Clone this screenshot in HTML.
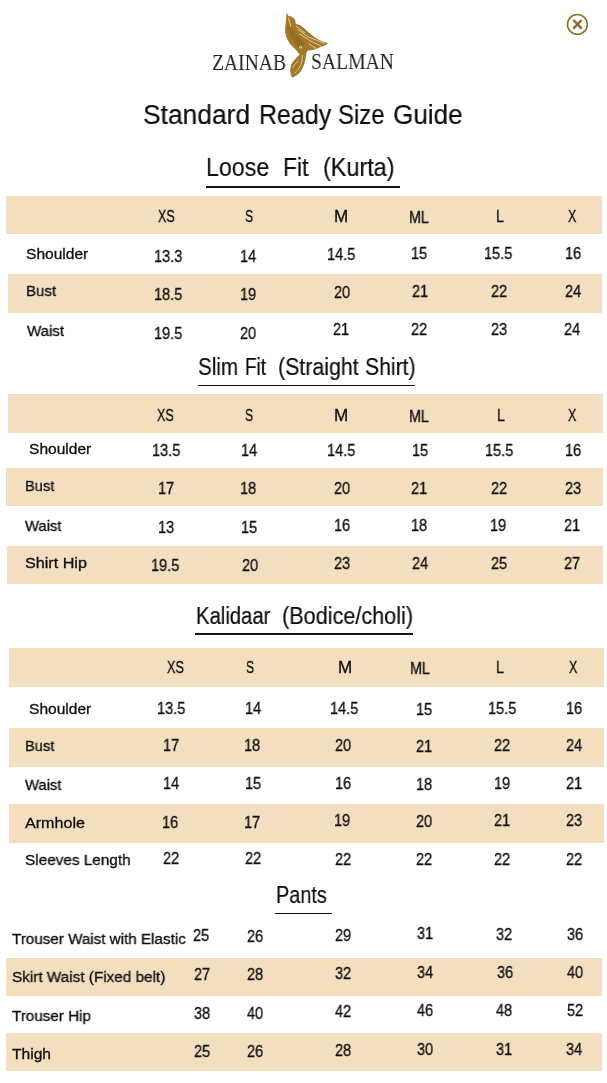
<!DOCTYPE html>
<html><head><meta charset="utf-8"><title>Standard Ready Size Guide</title>
<style>
html,body{margin:0;padding:0;background:#fff;}
body{width:607px;height:1083px;position:relative;overflow:hidden;font-family:"Liberation Sans",sans-serif;color:#0d0d0d;}
.b{position:absolute;background:#f4dec0;}
.u{position:absolute;background:#151515;}
.bl{position:absolute;background:#efe5c8;}
.tx,.ti,.lg{position:absolute;white-space:nowrap;line-height:1;transform-origin:0 0;will-change:transform;}
.tx{-webkit-text-stroke:0.3px #0d0d0d;}
.ti{-webkit-text-stroke:0.2px #0d0d0d;}
.lg{font-family:"Liberation Serif",serif;color:#232323;}
</style></head><body>
<svg style="position:absolute;left:270px;top:5px" width="70" height="80" viewBox="270 5 70 80">
<path fill="#a27829" d="M286.4 12.4 L288.6 16 C290 16 292.5 16.8 294.1 18.6 C295 19.6 295.5 21 295.6 22.4 L295.8 24.1 C297.5 24.4 299 24.8 300.6 25.4 C302.5 26.6 304 28 305.7 29.7 C308 31.8 310.3 33.8 312.6 35.7 C314.8 37.3 317 38.8 319.4 40 C322 41.4 324.8 42.4 327.8 43.1 C327.4 44 326.8 44.5 326.3 44.7 C324.6 45.6 322.8 46.2 321.1 46.8 C319.4 47.6 317.7 48.3 316 49 C314.6 49.6 313.1 50 311.7 50.3 C310.5 50.4 309.4 50.4 308.3 50.3 L306.6 52 C306.3 54 306 56 305.7 58 C305.2 60.3 304.7 62.6 304 64.8 C303 67.3 302 69.6 300.6 71.7 C299 73.5 297.3 75 295.4 76 C294.3 76.7 293.1 77.3 292 77.7 C291.2 75.8 290.5 73.8 290.3 71.7 C290.2 69.4 290.5 67 291.1 64.8 C291.9 63 293.1 61.2 294.6 59.7 C295.7 58.5 296.8 57.4 298 56.3 L299.7 54.5 C298.5 53.1 297.4 51.7 296.3 50.3 C294.2 48.4 292.2 46.4 290.3 44.3 C289 42.4 287.8 40.4 286.9 38.3 C285.9 36.1 285.3 33.8 285.1 31.4 C285 29.1 285.2 26.8 285.6 24.6 C285.7 22.9 285.8 21.1 286 19.4 C286.2 17.8 286.3 16.2 286.4 15.1 Z"/>
<path fill="#8a6320" opacity="0.55" d="M287 27 C289 33 292 40 297 46 C300 48 303 47 305 44 C301 40 295 33 291 27 C289.5 25 287.5 25 287 27 Z"/>
<g stroke="#ecd9ad" stroke-width="0.85" fill="none" stroke-linecap="round">
<path d="M296.3 26.3 L304.7 32.7"/>
<path d="M298.1 29.6 L308.4 37.2"/>
<path d="M299.8 34 L309.7 40.5"/>
<path d="M309.4 37.4 L324.6 43.2"/>
<path d="M309.9 40.7 L321 46"/>
<path d="M308.8 44 L316 48.4"/>
<path d="M288.4 17.8 C289.5 21 290.3 24 290.7 26.5"/>
<path d="M302.4 55.5 C302.2 60 301.7 63 300.6 65.4 C299 68.5 297 71 294.8 73"/>
<path d="M298.1 61 C296 63 294 65 292.6 67.2"/>
<circle cx="300.5" cy="47.2" r="1"/>
</g>
</svg>
<svg style="position:absolute;left:562px;top:9px" width="31" height="31" viewBox="562 9 31 31">
<circle cx="577.4" cy="24.4" r="9.9" fill="none" stroke="#8f6b2a" stroke-width="1.5"/>
<path d="M573.4 20 L581.8 28.6 M581.6 20 L573.2 28.6" stroke="#8f6b2a" stroke-width="2.5" stroke-linecap="butt"/>
</svg>

<div class="b" style="left:6px;top:196px;width:596px;height:38px"></div>
<div class="b" style="left:8px;top:274px;width:594px;height:38.5px"></div>
<div class="b" style="left:7.5px;top:394px;width:595.5px;height:38.5px"></div>
<div class="b" style="left:6px;top:467.5px;width:597px;height:38.5px"></div>
<div class="b" style="left:7px;top:546px;width:596px;height:38px"></div>
<div class="b" style="left:9px;top:647.5px;width:595px;height:39.5px"></div>
<div class="b" style="left:9px;top:727.5px;width:595px;height:39.0px"></div>
<div class="b" style="left:9px;top:804px;width:595px;height:39px"></div>
<div class="b" style="left:6px;top:957.5px;width:596px;height:38.5px"></div>
<div class="b" style="left:6px;top:1032.7px;width:596px;height:38.299999999999955px"></div>
<div class="bl" style="left:9px;top:277px;width:593px;height:1px"></div>
<div class="bl" style="left:8px;top:398px;width:594px;height:1px"></div>
<div class="bl" style="left:8px;top:549px;width:594px;height:1px"></div>
<div class="bl" style="left:10px;top:682px;width:591px;height:1px"></div>
<div class="bl" style="left:10px;top:762px;width:591px;height:1px"></div>
<div class="bl" style="left:7px;top:1066px;width:594px;height:1px"></div>
<div class="bl" style="left:601px;top:394px;width:1px;height:38px"></div>
<div class="bl" style="left:12px;top:648px;width:1px;height:38px"></div>
<div class="bl" style="left:13px;top:728px;width:1px;height:38px"></div>
<div class="bl" style="left:7px;top:468px;width:1px;height:38px"></div>
<div class="u" style="left:206.3px;top:186.4px;width:193.5px;height:1.4px"></div>
<div class="u" style="left:197.6px;top:384.7px;width:217.4px;height:1.4px"></div>
<div class="u" style="left:194.9px;top:633.4px;width:217.79999999999998px;height:1.4px"></div>
<div class="u" style="left:274.9px;top:912.7px;width:57.400000000000034px;height:1.4px"></div>
<span id="t0" class="tx" style="left:157.90px;top:209.00px;font-size:16px;transform:scaleX(0.7781);">XS</span>
<span id="t1" class="tx" style="left:244.54px;top:209.00px;font-size:16px;transform:scaleX(0.7500);">S</span>
<span id="t2" class="tx" style="left:333.80px;top:209.00px;font-size:16px;transform:scaleX(1.0666);">M</span>
<span id="t3" class="tx" style="left:409.37px;top:210.30px;font-size:16px;transform:scaleX(0.8946);">ML</span>
<span id="t4" class="tx" style="left:496.35px;top:209.00px;font-size:16px;transform:scaleX(0.8886);">L</span>
<span id="t5" class="tx" style="left:568.05px;top:209.00px;font-size:16px;transform:scaleX(0.7780);">X</span>
<span id="t6" class="tx" style="left:26.00px;top:245.58px;font-size:15.5px;transform:scaleX(1.0036);">Shoulder</span>
<span id="t7" class="tx" style="left:154.32px;top:249.16px;font-size:15.75px;transform:scaleX(0.9200);">13.3</span>
<span id="t8" class="tx" style="left:240.35px;top:249.16px;font-size:15.75px;transform:scaleX(0.9200);">14</span>
<span id="t9" class="tx" style="left:327.31px;top:247.18px;font-size:15.75px;transform:scaleX(0.9200);">14.5</span>
<span id="t10" class="tx" style="left:410.97px;top:246.18px;font-size:15.75px;transform:scaleX(0.9200);">15</span>
<span id="t11" class="tx" style="left:483.97px;top:246.18px;font-size:15.75px;transform:scaleX(0.9200);">15.5</span>
<span id="t12" class="tx" style="left:564.65px;top:246.18px;font-size:15.75px;transform:scaleX(0.9200);">16</span>
<span id="t13" class="tx" style="left:26.04px;top:283.24px;font-size:15.5px;transform:scaleX(0.9712);">Bust</span>
<span id="t14" class="tx" style="left:154.37px;top:287.16px;font-size:15.75px;transform:scaleX(0.9200);">18.5</span>
<span id="t15" class="tx" style="left:240.05px;top:287.16px;font-size:15.75px;transform:scaleX(0.9200);">19</span>
<span id="t16" class="tx" style="left:334.35px;top:285.18px;font-size:15.75px;transform:scaleX(0.9200);">20</span>
<span id="t17" class="tx" style="left:411.67px;top:284.18px;font-size:15.75px;transform:scaleX(0.9200);">21</span>
<span id="t18" class="tx" style="left:490.87px;top:284.18px;font-size:15.75px;transform:scaleX(0.9200);">22</span>
<span id="t19" class="tx" style="left:564.70px;top:284.18px;font-size:15.75px;transform:scaleX(0.9200);">24</span>
<span id="t20" class="tx" style="left:26.70px;top:322.64px;font-size:15.5px;transform:scaleX(0.9732);">Waist</span>
<span id="t21" class="tx" style="left:153.97px;top:325.52px;font-size:15.75px;transform:scaleX(0.9200);">19.5</span>
<span id="t22" class="tx" style="left:240.35px;top:325.52px;font-size:15.75px;transform:scaleX(0.9200);">20</span>
<span id="t23" class="tx" style="left:333.35px;top:322.16px;font-size:15.75px;transform:scaleX(0.9200);">21</span>
<span id="t24" class="tx" style="left:411.35px;top:321.50px;font-size:15.75px;transform:scaleX(0.9200);">22</span>
<span id="t25" class="tx" style="left:490.67px;top:321.50px;font-size:15.75px;transform:scaleX(0.9200);">23</span>
<span id="t26" class="tx" style="left:564.35px;top:321.50px;font-size:15.75px;transform:scaleX(0.9200);">24</span>
<span id="t27" class="tx" style="left:156.90px;top:408.00px;font-size:16px;transform:scaleX(0.7781);">XS</span>
<span id="t28" class="tx" style="left:244.56px;top:408.00px;font-size:16px;transform:scaleX(0.7500);">S</span>
<span id="t29" class="tx" style="left:333.80px;top:408.00px;font-size:16px;transform:scaleX(1.0666);">M</span>
<span id="t30" class="tx" style="left:409.39px;top:409.00px;font-size:16px;transform:scaleX(0.8946);">ML</span>
<span id="t31" class="tx" style="left:496.51px;top:408.00px;font-size:16px;transform:scaleX(0.8886);">L</span>
<span id="t32" class="tx" style="left:568.05px;top:408.00px;font-size:16px;transform:scaleX(0.7780);">X</span>
<span id="t33" class="tx" style="left:29.00px;top:440.58px;font-size:15.5px;transform:scaleX(1.0036);">Shoulder</span>
<span id="t34" class="tx" style="left:151.65px;top:443.16px;font-size:15.75px;transform:scaleX(0.9200);">13.5</span>
<span id="t35" class="tx" style="left:240.65px;top:443.16px;font-size:15.75px;transform:scaleX(0.9200);">14</span>
<span id="t36" class="tx" style="left:327.31px;top:443.16px;font-size:15.75px;transform:scaleX(0.9200);">14.5</span>
<span id="t37" class="tx" style="left:411.65px;top:443.16px;font-size:15.75px;transform:scaleX(0.9200);">15</span>
<span id="t38" class="tx" style="left:484.65px;top:443.16px;font-size:15.75px;transform:scaleX(0.9200);">15.5</span>
<span id="t39" class="tx" style="left:564.65px;top:443.16px;font-size:15.75px;transform:scaleX(0.9200);">16</span>
<span id="t40" class="tx" style="left:25.40px;top:478.22px;font-size:15.5px;transform:scaleX(0.9452);">Bust</span>
<span id="t41" class="tx" style="left:157.69px;top:480.84px;font-size:15.75px;transform:scaleX(0.9200);">17</span>
<span id="t42" class="tx" style="left:240.35px;top:480.84px;font-size:15.75px;transform:scaleX(0.9200);">18</span>
<span id="t43" class="tx" style="left:334.35px;top:481.18px;font-size:15.75px;transform:scaleX(0.9200);">20</span>
<span id="t44" class="tx" style="left:411.35px;top:481.18px;font-size:15.75px;transform:scaleX(0.9200);">21</span>
<span id="t45" class="tx" style="left:490.85px;top:481.18px;font-size:15.75px;transform:scaleX(0.9200);">22</span>
<span id="t46" class="tx" style="left:564.85px;top:481.18px;font-size:15.75px;transform:scaleX(0.9200);">23</span>
<span id="t47" class="tx" style="left:25.36px;top:517.64px;font-size:15.5px;transform:scaleX(0.9559);">Waist</span>
<span id="t48" class="tx" style="left:157.65px;top:519.52px;font-size:15.75px;transform:scaleX(0.9200);">13</span>
<span id="t49" class="tx" style="left:240.65px;top:519.52px;font-size:15.75px;transform:scaleX(0.9200);">15</span>
<span id="t50" class="tx" style="left:333.65px;top:518.16px;font-size:15.75px;transform:scaleX(0.9200);">16</span>
<span id="t51" class="tx" style="left:411.35px;top:518.16px;font-size:15.75px;transform:scaleX(0.9200);">18</span>
<span id="t52" class="tx" style="left:489.97px;top:518.16px;font-size:15.75px;transform:scaleX(0.9200);">19</span>
<span id="t53" class="tx" style="left:564.35px;top:518.16px;font-size:15.75px;transform:scaleX(0.9200);">21</span>
<span id="t54" class="tx" style="left:25.06px;top:555.26px;font-size:15.5px;transform:scaleX(1.0410);">Shirt Hip</span>
<span id="t55" class="tx" style="left:151.35px;top:557.50px;font-size:15.75px;transform:scaleX(0.9200);">19.5</span>
<span id="t56" class="tx" style="left:242.35px;top:557.50px;font-size:15.75px;transform:scaleX(0.9200);">20</span>
<span id="t57" class="tx" style="left:333.85px;top:556.16px;font-size:15.75px;transform:scaleX(0.9200);">23</span>
<span id="t58" class="tx" style="left:411.70px;top:556.16px;font-size:15.75px;transform:scaleX(0.9200);">24</span>
<span id="t59" class="tx" style="left:491.35px;top:556.16px;font-size:15.75px;transform:scaleX(0.9200);">25</span>
<span id="t60" class="tx" style="left:563.85px;top:556.16px;font-size:15.75px;transform:scaleX(0.9200);">27</span>
<span id="t61" class="tx" style="left:166.60px;top:660.30px;font-size:16px;transform:scaleX(0.7863);">XS</span>
<span id="t62" class="tx" style="left:245.52px;top:660.30px;font-size:16px;transform:scaleX(0.7500);">S</span>
<span id="t63" class="tx" style="left:337.76px;top:660.30px;font-size:16px;transform:scaleX(1.0666);">M</span>
<span id="t64" class="tx" style="left:410.39px;top:661.30px;font-size:16px;transform:scaleX(0.8946);">ML</span>
<span id="t65" class="tx" style="left:496.35px;top:660.30px;font-size:16px;transform:scaleX(0.8886);">L</span>
<span id="t66" class="tx" style="left:569.05px;top:660.30px;font-size:16px;transform:scaleX(0.7780);">X</span>
<span id="t67" class="tx" style="left:29.00px;top:700.60px;font-size:15.5px;transform:scaleX(1.0036);">Shoulder</span>
<span id="t68" class="tx" style="left:156.65px;top:700.84px;font-size:15.75px;transform:scaleX(0.9200);">13.5</span>
<span id="t69" class="tx" style="left:244.65px;top:700.84px;font-size:15.75px;transform:scaleX(0.9200);">14</span>
<span id="t70" class="tx" style="left:330.01px;top:701.18px;font-size:15.75px;transform:scaleX(0.9200);">14.5</span>
<span id="t71" class="tx" style="left:415.65px;top:702.18px;font-size:15.75px;transform:scaleX(0.9200);">15</span>
<span id="t72" class="tx" style="left:488.35px;top:701.18px;font-size:15.75px;transform:scaleX(0.9200);">15.5</span>
<span id="t73" class="tx" style="left:565.65px;top:701.18px;font-size:15.75px;transform:scaleX(0.9200);">16</span>
<span id="t74" class="tx" style="left:25.40px;top:737.56px;font-size:15.5px;transform:scaleX(0.9452);">Bust</span>
<span id="t75" class="tx" style="left:163.05px;top:738.16px;font-size:15.75px;transform:scaleX(0.9200);">17</span>
<span id="t76" class="tx" style="left:244.35px;top:738.16px;font-size:15.75px;transform:scaleX(0.9200);">18</span>
<span id="t77" class="tx" style="left:335.35px;top:738.16px;font-size:15.75px;transform:scaleX(0.9200);">20</span>
<span id="t78" class="tx" style="left:416.35px;top:739.16px;font-size:15.75px;transform:scaleX(0.9200);">21</span>
<span id="t79" class="tx" style="left:493.85px;top:738.16px;font-size:15.75px;transform:scaleX(0.9200);">22</span>
<span id="t80" class="tx" style="left:566.00px;top:738.16px;font-size:15.75px;transform:scaleX(0.9200);">24</span>
<span id="t81" class="tx" style="left:25.36px;top:776.96px;font-size:15.5px;transform:scaleX(0.9559);">Waist</span>
<span id="t82" class="tx" style="left:162.65px;top:775.82px;font-size:15.75px;transform:scaleX(0.9200);">14</span>
<span id="t83" class="tx" style="left:244.65px;top:775.82px;font-size:15.75px;transform:scaleX(0.9200);">15</span>
<span id="t84" class="tx" style="left:334.65px;top:776.18px;font-size:15.75px;transform:scaleX(0.9200);">16</span>
<span id="t85" class="tx" style="left:415.65px;top:777.16px;font-size:15.75px;transform:scaleX(0.9200);">18</span>
<span id="t86" class="tx" style="left:493.65px;top:776.18px;font-size:15.75px;transform:scaleX(0.9200);">19</span>
<span id="t87" class="tx" style="left:566.35px;top:776.18px;font-size:15.75px;transform:scaleX(0.9200);">21</span>
<span id="t88" class="tx" style="left:25.36px;top:814.98px;font-size:15.5px;transform:scaleX(1.0398);">Armhole</span>
<span id="t89" class="tx" style="left:162.35px;top:814.50px;font-size:15.75px;transform:scaleX(0.9200);">16</span>
<span id="t90" class="tx" style="left:244.35px;top:814.50px;font-size:15.75px;transform:scaleX(0.9200);">17</span>
<span id="t91" class="tx" style="left:334.35px;top:813.16px;font-size:15.75px;transform:scaleX(0.9200);">19</span>
<span id="t92" class="tx" style="left:416.35px;top:814.16px;font-size:15.75px;transform:scaleX(0.9200);">20</span>
<span id="t93" class="tx" style="left:494.35px;top:813.16px;font-size:15.75px;transform:scaleX(0.9200);">21</span>
<span id="t94" class="tx" style="left:565.85px;top:813.16px;font-size:15.75px;transform:scaleX(0.9200);">23</span>
<span id="t95" class="tx" style="left:24.66px;top:851.94px;font-size:15.5px;transform:scaleX(0.9882);">Sleeves Length</span>
<span id="t96" class="tx" style="left:163.35px;top:851.16px;font-size:15.75px;transform:scaleX(0.9200);">22</span>
<span id="t97" class="tx" style="left:245.35px;top:851.16px;font-size:15.75px;transform:scaleX(0.9200);">22</span>
<span id="t98" class="tx" style="left:335.35px;top:851.52px;font-size:15.75px;transform:scaleX(0.9200);">22</span>
<span id="t99" class="tx" style="left:416.35px;top:852.16px;font-size:15.75px;transform:scaleX(0.9200);">22</span>
<span id="t100" class="tx" style="left:494.35px;top:851.52px;font-size:15.75px;transform:scaleX(0.9200);">22</span>
<span id="t101" class="tx" style="left:566.35px;top:851.52px;font-size:15.75px;transform:scaleX(0.9200);">22</span>
<span id="t102" class="tx" style="left:12.40px;top:931.24px;font-size:15.5px;transform:scaleX(0.9807);">Trouser Waist with Elastic</span>
<span id="t103" class="tx" style="left:193.34px;top:928.16px;font-size:15.75px;transform:scaleX(0.9200);">25</span>
<span id="t104" class="tx" style="left:247.35px;top:929.16px;font-size:15.75px;transform:scaleX(0.9200);">26</span>
<span id="t105" class="tx" style="left:335.01px;top:928.16px;font-size:15.75px;transform:scaleX(0.9200);">29</span>
<span id="t106" class="tx" style="left:417.35px;top:926.46px;font-size:15.75px;transform:scaleX(0.9200);">31</span>
<span id="t107" class="tx" style="left:496.35px;top:927.16px;font-size:15.75px;transform:scaleX(0.9200);">32</span>
<span id="t108" class="tx" style="left:566.69px;top:927.16px;font-size:15.75px;transform:scaleX(0.9200);">36</span>
<span id="t109" class="tx" style="left:12.40px;top:968.60px;font-size:15.5px;transform:scaleX(0.9872);">Skirt Waist (Fixed belt)</span>
<span id="t110" class="tx" style="left:193.89px;top:966.84px;font-size:15.75px;transform:scaleX(0.9200);">27</span>
<span id="t111" class="tx" style="left:246.85px;top:966.84px;font-size:15.75px;transform:scaleX(0.9200);">28</span>
<span id="t112" class="tx" style="left:334.51px;top:966.18px;font-size:15.75px;transform:scaleX(0.9200);">32</span>
<span id="t113" class="tx" style="left:417.00px;top:965.18px;font-size:15.75px;transform:scaleX(0.9200);">34</span>
<span id="t114" class="tx" style="left:496.55px;top:965.18px;font-size:15.75px;transform:scaleX(0.9200);">36</span>
<span id="t115" class="tx" style="left:566.69px;top:965.18px;font-size:15.75px;transform:scaleX(0.9200);">40</span>
<span id="t116" class="tx" style="left:12.40px;top:1007.60px;font-size:15.5px;transform:scaleX(0.9809);">Trouser Hip</span>
<span id="t117" class="tx" style="left:193.69px;top:1005.84px;font-size:15.75px;transform:scaleX(0.9200);">38</span>
<span id="t118" class="tx" style="left:247.35px;top:1005.84px;font-size:15.75px;transform:scaleX(0.9200);">40</span>
<span id="t119" class="tx" style="left:335.01px;top:1004.16px;font-size:15.75px;transform:scaleX(0.9200);">42</span>
<span id="t120" class="tx" style="left:417.35px;top:1003.16px;font-size:15.75px;transform:scaleX(0.9200);">46</span>
<span id="t121" class="tx" style="left:496.35px;top:1003.16px;font-size:15.75px;transform:scaleX(0.9200);">48</span>
<span id="t122" class="tx" style="left:566.69px;top:1003.16px;font-size:15.75px;transform:scaleX(0.9200);">52</span>
<span id="t123" class="tx" style="left:12.06px;top:1045.60px;font-size:15.5px;transform:scaleX(1.0068);">Thigh</span>
<span id="t124" class="tx" style="left:193.69px;top:1043.52px;font-size:15.75px;transform:scaleX(0.9200);">25</span>
<span id="t125" class="tx" style="left:246.85px;top:1043.52px;font-size:15.75px;transform:scaleX(0.9200);">26</span>
<span id="t126" class="tx" style="left:334.51px;top:1042.50px;font-size:15.75px;transform:scaleX(0.9200);">28</span>
<span id="t127" class="tx" style="left:417.35px;top:1041.50px;font-size:15.75px;transform:scaleX(0.9200);">30</span>
<span id="t128" class="tx" style="left:496.35px;top:1041.50px;font-size:15.75px;transform:scaleX(0.9200);">31</span>
<span id="t129" class="tx" style="left:566.34px;top:1041.50px;font-size:15.75px;transform:scaleX(0.9200);">34</span>
<span id="t130" class="ti" style="left:143.22px;top:99.80px;font-size:28.2px;transform:scaleX(0.9359);">Standard</span>
<span id="t131" class="ti" style="left:258.52px;top:99.80px;font-size:28.2px;transform:scaleX(0.8856);">Ready</span>
<span id="t132" class="ti" style="left:338.12px;top:99.80px;font-size:28.2px;transform:scaleX(0.8487);">Size</span>
<span id="t133" class="ti" style="left:393.34px;top:99.80px;font-size:28.2px;transform:scaleX(0.9269);">Guide</span>
<span id="t134" class="ti" style="left:206.24px;top:154.80px;font-size:25.9px;transform:scaleX(0.8953);">Loose</span>
<span id="t135" class="ti" style="left:282.96px;top:154.80px;font-size:25.9px;transform:scaleX(0.8862);">Fit</span>
<span id="t136" class="ti" style="left:322.60px;top:154.80px;font-size:25.9px;transform:scaleX(0.9039);">(Kurta)</span>
<span id="t137" class="ti" style="left:198.00px;top:356.00px;font-size:23.1px;transform:scaleX(0.8903);">Slim</span>
<span id="t138" class="ti" style="left:244.52px;top:356.00px;font-size:23.1px;transform:scaleX(0.8174);">Fit</span>
<span id="t139" class="ti" style="left:278.14px;top:356.00px;font-size:23.1px;transform:scaleX(0.9243);">(Straight</span>
<span id="t140" class="ti" style="left:364.64px;top:356.00px;font-size:23.1px;transform:scaleX(0.9159);">Shirt)</span>
<span id="t141" class="ti" style="left:195.68px;top:605.20px;font-size:23.1px;transform:scaleX(0.8776);">Kalidaar</span>
<span id="t142" class="ti" style="left:282.22px;top:605.20px;font-size:23.1px;transform:scaleX(0.9369);">(Bodice/choli)</span>
<span id="t143" class="ti" style="left:275.72px;top:884.20px;font-size:23.25px;transform:scaleX(0.8553);">Pants</span>
<span id="t144" class="lg" style="left:212.14px;top:50.50px;font-size:23.5px;transform:scaleX(0.8344);">ZAINAB</span>
<span id="t145" class="lg" style="left:310.68px;top:49.96px;font-size:23.5px;transform:scaleX(0.8357);">SALMAN</span>
</body></html>
